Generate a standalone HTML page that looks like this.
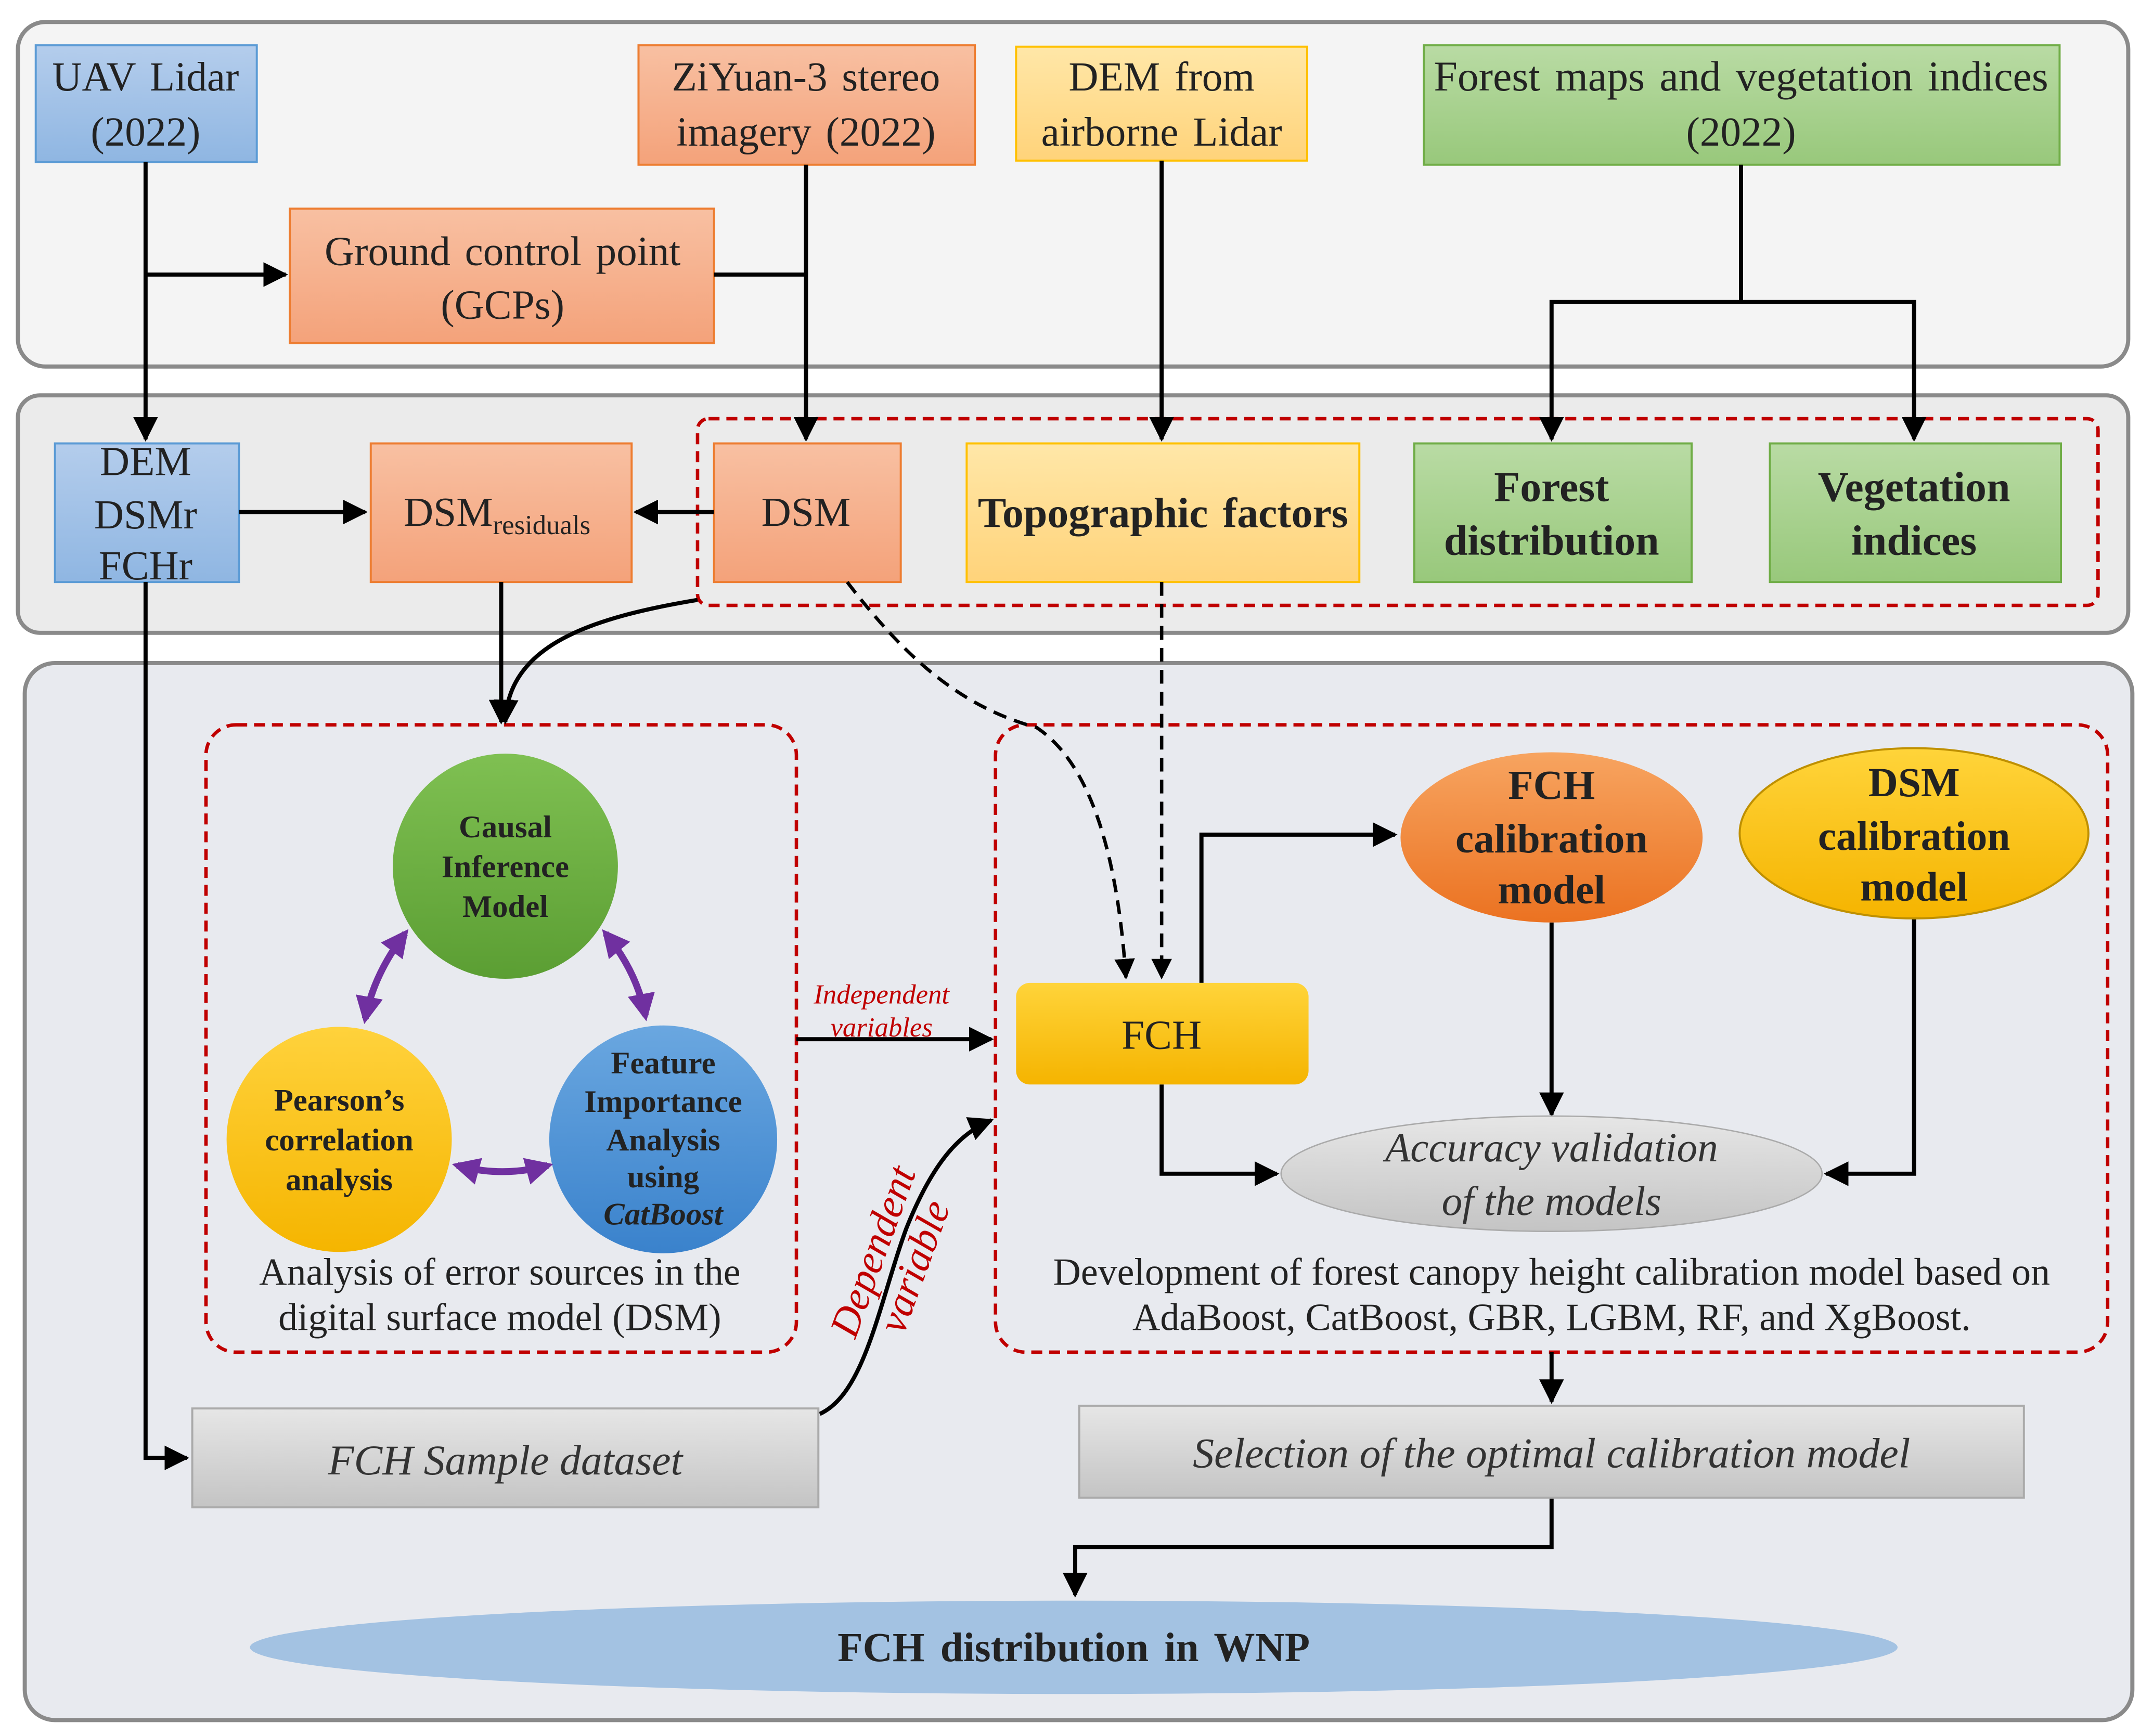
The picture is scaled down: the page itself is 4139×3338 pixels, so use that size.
<!DOCTYPE html>
<html><head><meta charset="utf-8"><style>html,body{margin:0;padding:0;background:#fff}svg{display:block}</style></head><body>
<svg width="4139" height="3338" viewBox="0 0 1568 1264.6" xmlns="http://www.w3.org/2000/svg" font-family="'Liberation Serif', serif">
<defs>
<marker id="a" viewBox="0 0 10 10" refX="9" refY="5" markerWidth="6" markerHeight="6" orient="auto-start-reverse"><path d="M0,0L10,5L0,10z" fill="#000"/></marker>
<marker id="p" viewBox="0 0 10 10" refX="8" refY="5" markerWidth="4" markerHeight="4" orient="auto-start-reverse"><path d="M0,0L10,5L0,10z" fill="#7030a0"/></marker>
<linearGradient id="gb" x1="0" y1="0" x2="0" y2="1"><stop offset="0" stop-color="#b4cdec"/><stop offset="1" stop-color="#8fb6e2"/></linearGradient>
<linearGradient id="go" x1="0" y1="0" x2="0" y2="1"><stop offset="0" stop-color="#f8c0a2"/><stop offset="1" stop-color="#f4a27a"/></linearGradient>
<linearGradient id="gy" x1="0" y1="0" x2="0" y2="1"><stop offset="0" stop-color="#ffe7a8"/><stop offset="1" stop-color="#ffd37a"/></linearGradient>
<linearGradient id="gg" x1="0" y1="0" x2="0" y2="1"><stop offset="0" stop-color="#b9dba4"/><stop offset="1" stop-color="#98c87b"/></linearGradient>
<linearGradient id="gr" x1="0" y1="0" x2="0" y2="1"><stop offset="0" stop-color="#e6e6e6"/><stop offset="1" stop-color="#c4c4c4"/></linearGradient>
<linearGradient id="gfy" x1="0" y1="0" x2="0" y2="1"><stop offset="0" stop-color="#ffd43a"/><stop offset="1" stop-color="#f5b400"/></linearGradient>
<linearGradient id="gfo" x1="0" y1="0" x2="0" y2="1"><stop offset="0" stop-color="#f7a460"/><stop offset="1" stop-color="#eb7221"/></linearGradient>
<linearGradient id="cg" x1="0" y1="0" x2="0" y2="1"><stop offset="0" stop-color="#7fc052"/><stop offset="1" stop-color="#5b9e33"/></linearGradient>
<linearGradient id="cy" x1="0" y1="0" x2="0" y2="1"><stop offset="0" stop-color="#ffd23c"/><stop offset="1" stop-color="#f5b500"/></linearGradient>
<linearGradient id="cb" x1="0" y1="0" x2="0" y2="1"><stop offset="0" stop-color="#6aa7e0"/><stop offset="1" stop-color="#3a82cc"/></linearGradient>
</defs>
<rect x="13" y="16" width="1537" height="251" rx="20" fill="#f4f4f4" stroke="#8a8a8a" stroke-width="3"/>
<rect x="13" y="288" width="1537" height="173" rx="16" fill="#ebebeb" stroke="#8a8a8a" stroke-width="3"/>
<rect x="18" y="483" width="1535" height="770" rx="22" fill="#e8eaef" stroke="#8a8a8a" stroke-width="3"/>

<g stroke-width="1.5">
<rect x="26" y="33" width="161" height="85" fill="url(#gb)" stroke="#5b9bd5"/>
<rect x="465" y="33" width="245" height="87" fill="url(#go)" stroke="#ed7d31"/>
<rect x="740" y="34" width="212" height="83" fill="url(#gy)" stroke="#ffc000"/>
<rect x="1037" y="33" width="463" height="87" fill="url(#gg)" stroke="#70ad47"/>
<rect x="211" y="152" width="309" height="98" fill="url(#go)" stroke="#ed7d31"/>
<rect x="40" y="323" width="134" height="101" fill="url(#gb)" stroke="#5b9bd5"/>
<rect x="270" y="323" width="190" height="101" fill="url(#go)" stroke="#ed7d31"/>
<rect x="520" y="323" width="136" height="101" fill="url(#go)" stroke="#ed7d31"/>
<rect x="704" y="323" width="286" height="101" fill="url(#gy)" stroke="#ffc000"/>
<rect x="1030" y="323" width="202" height="101" fill="url(#gg)" stroke="#70ad47"/>
<rect x="1289" y="323" width="212" height="101" fill="url(#gg)" stroke="#70ad47"/>
</g>
<g fill="none" stroke="#c00000" stroke-width="2.5" stroke-dasharray="8,5">
<rect x="508" y="305" width="1020" height="136" rx="8"/>
<rect x="150" y="528" width="430" height="457" rx="22"/>
<rect x="725" y="528" width="810" height="457" rx="22"/>
</g>

<g font-size="30" text-anchor="middle" fill="#222" word-spacing="3">
<text x="106" y="66">UAV Lidar</text><text x="106" y="106">(2022)</text>
<text x="587" y="66">ZiYuan-3  stereo</text><text x="587" y="106">imagery  (2022)</text>
<text x="846" y="66">DEM from</text><text x="846" y="106">airborne Lidar</text>
<text x="1268" y="66" font-size="31">Forest maps and vegetation indices</text><text x="1268" y="106">(2022)</text>
<text x="366" y="193">Ground control point</text><text x="366" y="232">(GCPs)</text>
<text x="106" y="346">DEM</text><text x="106" y="385">DSMr</text><text x="106" y="422">FCHr</text>
<text x="362" y="383">DSM<tspan font-size="20" dy="6">residuals</tspan></text>
<text x="587" y="383">DSM</text>
<g font-weight="bold" font-size="31"><text x="847" y="384">Topographic factors</text>
<text x="1130" y="365">Forest</text><text x="1130" y="404">distribution</text>
<text x="1394" y="365">Vegetation</text><text x="1394" y="404">indices</text></g>
</g>

<g fill="none" stroke="#000" stroke-width="3">
<path d="M106,118V320" marker-end="url(#a)"/>
<path d="M106,200H208" marker-end="url(#a)"/>
<path d="M520,200H587V320" marker-end="url(#a)"/>
<path d="M587,120V200"/>
<path d="M846,117V320" marker-end="url(#a)"/>
<path d="M1268,120V220H1130V320" marker-end="url(#a)"/>
<path d="M1268,220H1394V320" marker-end="url(#a)"/>
<path d="M174,373H266" marker-end="url(#a)"/>
<path d="M520,373H463" marker-end="url(#a)"/>
<path d="M365,424V526" marker-end="url(#a)"/>
<path d="M508,437C430,450 370,470 368,526" marker-end="url(#a)"/>
<path d="M106,424V1062H136" marker-end="url(#a)"/>
<path d="M875,716V608H1016" marker-end="url(#a)"/>
<path d="M1130,672V812" marker-end="url(#a)"/>
<path d="M1394,669V855H1330" marker-end="url(#a)"/>
<path d="M846,790V855H930" marker-end="url(#a)"/>
<path d="M580,757H722" marker-end="url(#a)"/>
<path d="M597,1030C630,1015 640,950 660,895C680,845 700,825 722,816" marker-end="url(#a)"/>
<path d="M1130,985V1021" marker-end="url(#a)"/>
<path d="M1130,1091V1127H783V1162" marker-end="url(#a)"/>
</g>
<g fill="none" stroke="#000" stroke-width="2.5" stroke-dasharray="10,6">
<path d="M617,424C660,480 700,515 755,530C800,560 815,640 820,712" marker-end="url(#a)"/>
<path d="M846,424V712" marker-end="url(#a)"/>
</g>

<circle cx="368" cy="631" r="82" fill="url(#cg)"/>
<circle cx="247" cy="830" r="82" fill="url(#cy)"/>
<circle cx="483" cy="830" r="83" fill="url(#cb)"/>
<g fill="none" stroke="#7030a0" stroke-width="5">
<path d="M295,680Q272,710 266,742" marker-start="url(#p)" marker-end="url(#p)"/>
<path d="M441,680Q464,708 470,740" marker-start="url(#p)" marker-end="url(#p)"/>
<path d="M333,849Q366,858 399,849" marker-start="url(#p)" marker-end="url(#p)"/>
</g>
<g font-size="23" font-weight="bold" text-anchor="middle" fill="#222">
<text x="368" y="610">Causal</text><text x="368" y="639">Inference</text><text x="368" y="668">Model</text>
<text x="247" y="809">Pearson’s</text><text x="247" y="838">correlation</text><text x="247" y="867">analysis</text>
<text x="483" y="782">Feature</text><text x="483" y="810">Importance</text><text x="483" y="838">Analysis</text><text x="483" y="865">using</text><text x="483" y="892" font-style="italic">CatBoost</text>
</g>
<g font-size="28" text-anchor="middle" fill="#222">
<text x="364" y="936">Analysis of error sources in the</text><text x="364" y="969">digital surface model (DSM)</text>
<text x="1130" y="936">Development of forest canopy height calibration model based on</text>
<text x="1130" y="969">AdaBoost, CatBoost, GBR, LGBM, RF, and XgBoost.</text>
</g>
<g font-style="italic" fill="#c00000" text-anchor="middle">
<text x="642" y="731" font-size="20">Independent</text><text x="642" y="755" font-size="20">variables</text>
<g transform="translate(645,915) rotate(-70)"><text x="0" y="0" font-size="30">Dependent</text><text x="0" y="32" font-size="30">variable</text></g>
</g>

<rect x="740" y="716" width="213" height="74" rx="10" fill="url(#gfy)"/>
<text x="846" y="764" font-size="30" text-anchor="middle" fill="#222">FCH</text>
<ellipse cx="1130" cy="610" rx="110" ry="62" fill="url(#gfo)"/>
<ellipse cx="1394" cy="607" rx="127" ry="62" fill="url(#gfy)" stroke="#bf9000" stroke-width="1.5"/>
<g font-size="30" font-weight="bold" text-anchor="middle" fill="#222">
<text x="1130" y="582">FCH</text><text x="1130" y="621">calibration</text><text x="1130" y="658">model</text>
<text x="1394" y="580">DSM</text><text x="1394" y="619">calibration</text><text x="1394" y="656">model</text>
</g>
<ellipse cx="1130" cy="855" rx="197" ry="42" fill="url(#gr)" stroke="#aaa"/>
<g font-size="30" font-style="italic" text-anchor="middle" fill="#333">
<text x="1130" y="846">Accuracy validation</text><text x="1130" y="885">of the models</text>
</g>
<rect x="786" y="1024" width="688" height="67" fill="url(#gr)" stroke="#aaa" stroke-width="1.5"/>
<text x="1130" y="1069" font-size="31" font-style="italic" text-anchor="middle" fill="#333">Selection of the optimal calibration model</text>
<rect x="140" y="1026" width="456" height="72" fill="url(#gr)" stroke="#aaa" stroke-width="1.5"/>
<text x="368" y="1074" font-size="31" font-style="italic" text-anchor="middle" fill="#333">FCH Sample dataset</text>
<ellipse cx="782" cy="1200" rx="600" ry="34" fill="#a3c2e2"/>
<text x="782" y="1210" font-size="30" font-weight="bold" text-anchor="middle" fill="#222" word-spacing="4">FCH distribution  in WNP</text>
</svg>
</body></html>
